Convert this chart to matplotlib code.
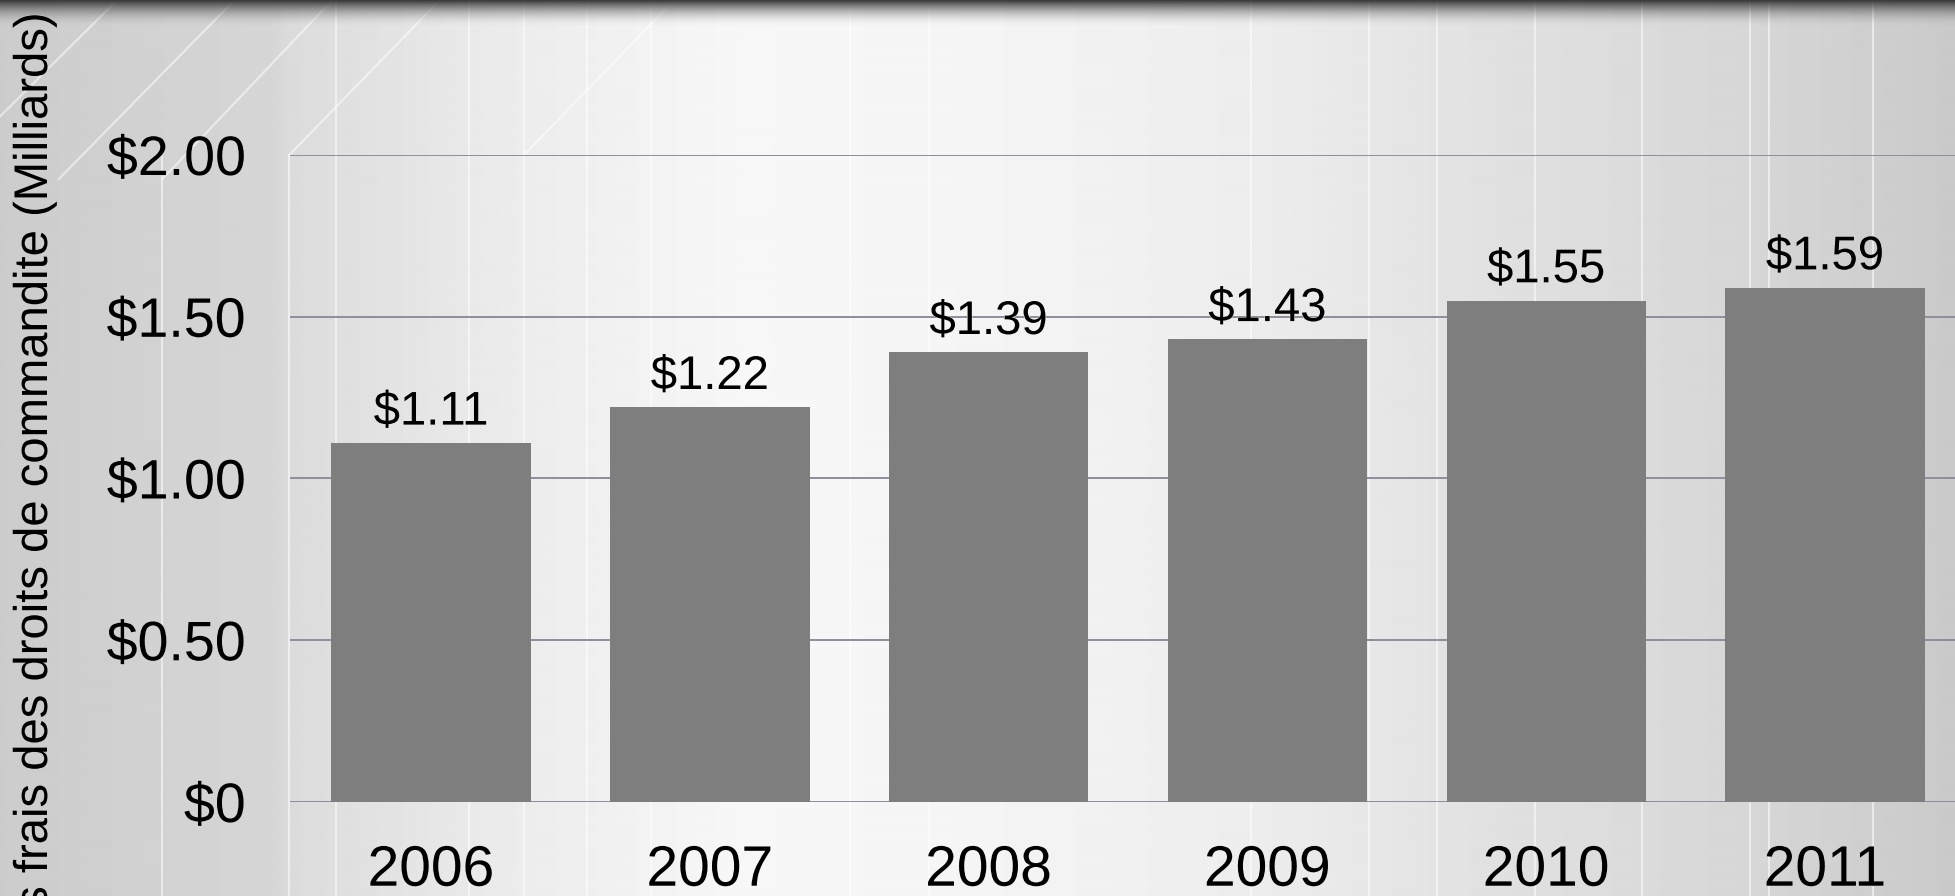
import numpy as np
import matplotlib
matplotlib.use("Agg")
import matplotlib.pyplot as plt
import matplotlib.patheffects as pe
from matplotlib.colors import LinearSegmentedColormap

# ---- data ----
years = ["2006", "2007", "2008", "2009", "2010", "2011"]
values = [1.11, 1.22, 1.39, 1.43, 1.55, 1.59]
value_labels = ["$1.11", "$1.22", "$1.39", "$1.43", "$1.55", "$1.59"]
yticks = [0.0, 0.5, 1.0, 1.5, 2.0]
ytick_labels = ["$0", "$0.50", "$1.00", "$1.50", "$2.00"]
ylabel = "Revenus des frais des droits de commandite (Milliards)"

FONT = ["Liberation Sans", "DejaVu Sans"]
plt.rcParams["font.family"] = FONT

W, H = 1955, 896
fig = plt.figure(figsize=(W / 100, H / 100), dpi=100)

# ---- background gradient ----
xs = np.array([0, 0.14, 0.148, 0.25, 0.38, 0.5, 0.64, 0.77, 0.9, 1.0])
gs = np.array([0.80, 0.84, 0.86, 0.92, 0.97, 0.96, 0.93, 0.88, 0.84, 0.79])


def bg_gray(xf):
    g = float(np.interp(xf, xs, gs))
    return (g, g, g)


def thin(xf):
    return [pe.withStroke(linewidth=0.7, foreground=bg_gray(xf))]


bg = fig.add_axes([0, 0, 1, 1], zorder=0)
bg.set_axis_off()
xx = np.linspace(0, 1, W)
row = np.interp(xx, xs, gs)
img = np.tile(row, (H, 1))
bg.imshow(img, cmap="gray", vmin=0, vmax=1, extent=[0, 1, 0, 1], aspect="auto", origin="lower")
bg.set_xlim(0, 1)
bg.set_ylim(0, 1)
# decorative vertical lines
for vx in [0.083, 0.148, 0.172, 0.24, 0.268, 0.30, 0.333, 0.435, 0.475, 0.64, 0.70, 0.735, 0.785, 0.84, 0.895, 0.905, 0.958]:
    bg.plot([vx, vx], [0, 0.827 if vx < 0.16 else 1], color="white", lw=1.5, alpha=0.55)
# diagonal lines at top left
for x0, y0, x1, y1 in [(0.0, 0.87, 0.06, 1.0), (0.03, 0.80, 0.12, 1.0), (0.083, 0.80, 0.17, 1.0),
                       (0.148, 0.827, 0.225, 1.0), (0.268, 0.827, 0.345, 1.0)]:
    bg.plot([x0, x1], [y0, y1], color="white", lw=1.5, alpha=0.55)
# top shadow
sh = (np.linspace(0, 1, 60) ** 2)[:, None] * np.ones((1, 10))
shadow_cmap = LinearSegmentedColormap.from_list("sh", [(0.22, 0.22, 0.22, 0.0), (0.22, 0.22, 0.22, 1.0)])
bg.imshow(sh, cmap=shadow_cmap, extent=[0, 1, 1 - 28 / H, 1], aspect="auto", origin="lower", zorder=5)

# ---- main axes ----
left = 290 / W
bottom = 1 - 802 / H
top = 1 - 155 / H
ax = fig.add_axes([left, bottom, 1 - left, top - bottom], zorder=2)
ax.patch.set_alpha(0)
x = np.arange(len(years))
ax.set_axisbelow(True)
ax.yaxis.grid(True, color="#8d8d9c", lw=1.4)
ax.bar(x, values, width=0.715, color="#7e7e7e", zorder=3)
xlo, xhi = -0.506, 5.466
ax.set_xlim(xlo, xhi)
ax.set_ylim(0, 2.0)
ax.set_yticks(yticks)
ax.set_yticklabels(ytick_labels)
ax.set_xticks(x)
ax.set_xticklabels(years)
for s in ax.spines.values():
    s.set_visible(False)
ax.tick_params(axis="both", length=0)
ax.tick_params(axis="y", labelsize=40, pad=32)
ax.tick_params(axis="x", labelsize=41, pad=30)


def data_to_figx(xd):
    return left + (xd - xlo) / (xhi - xlo) * (1 - left)


for lab in ax.get_yticklabels():
    lab.set_path_effects(thin(0.11))
for xi, lab in zip(x, ax.get_xticklabels()):
    lab.set_path_effects(thin(data_to_figx(xi)))
for xi, v, t in zip(x, values, value_labels):
    ax.annotate(t, (xi, v), xytext=(0, 6), textcoords="offset points",
                ha="center", va="bottom", fontsize=34, path_effects=thin(data_to_figx(xi)))
ax.axhline(0, color="#8d8d9c", lw=1.4, zorder=2)

fig.text(35 / W, 1 - 13 / H, ylabel, rotation=90, ha="center", va="top",
         fontsize=34, path_effects=thin(0.018))

fig.savefig("out.png", dpi=100)
